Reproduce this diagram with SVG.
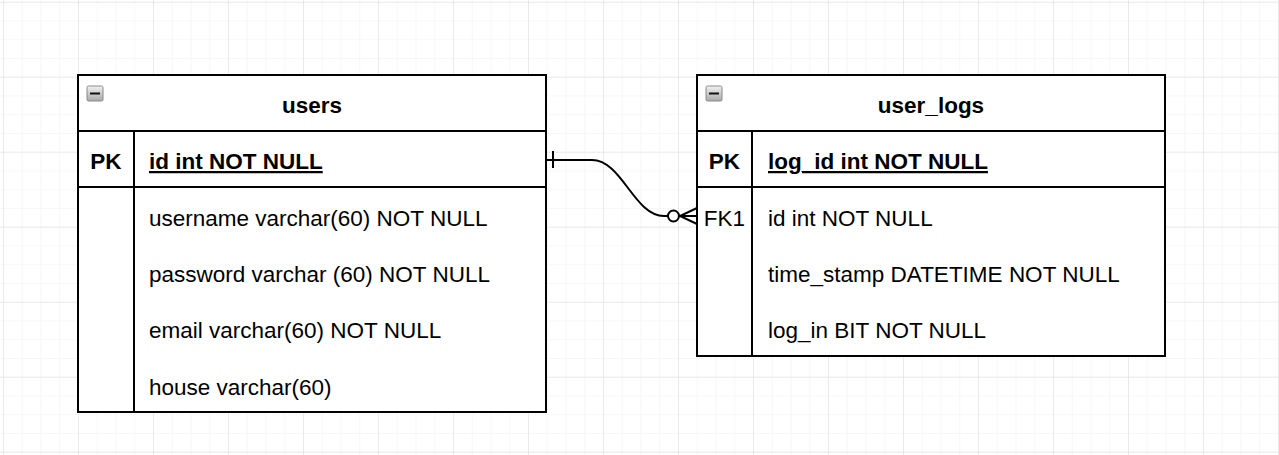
<svg xmlns="http://www.w3.org/2000/svg" width="1279" height="455" viewBox="0 0 1279 455">
  <defs>
    <pattern id="minor" x="3" y="1.7" width="18.75" height="18.75" patternUnits="userSpaceOnUse">
      <path d="M0 0 V18.75 M0 0 H18.75" fill="none" stroke="#efefef" stroke-width="1"/>
    </pattern>
    <pattern id="major" x="3" y="1.7" width="75" height="75" patternUnits="userSpaceOnUse">
      <path d="M0 0 V75 M0 0 H75" fill="none" stroke="#dedede" stroke-width="1"/>
    </pattern>
    <linearGradient id="btn" x1="0" y1="0" x2="0" y2="1">
      <stop offset="0" stop-color="#f2f2f2"/>
      <stop offset="1" stop-color="#a8a8a8"/>
    </linearGradient>
    <g id="toggle">
      <rect x="0" y="0" width="16" height="15" rx="1.5" fill="url(#btn)" stroke="#8a8a8a" stroke-width="1"/>
      <line x1="3" y1="7.5" x2="13" y2="7.5" stroke="#111" stroke-width="2"/>
    </g>
  </defs>
  <style>
    .box { fill: #ffffff; stroke: #000; stroke-width: 2; }
    .ln { stroke: #000; stroke-width: 2; fill: none; }
    .t { font-family: "Liberation Sans", Arial, sans-serif; font-size: 22.5px; fill: #000; }
    .b { font-weight: bold; }
    .c { text-anchor: middle; }
    .u { text-decoration: underline; }
  </style>
  <rect width="1279" height="455" fill="#ffffff"/>
  <rect width="1279" height="455" fill="url(#minor)"/>
  <rect width="1279" height="455" fill="url(#major)"/>

  <g id="users">
    <rect class="box" x="78" y="75" width="468" height="337"/>
    <line class="ln" x1="78" y1="131" x2="546" y2="131"/>
    <line class="ln" x1="78" y1="187" x2="546" y2="187"/>
    <line class="ln" x1="134" y1="131" x2="134" y2="412"/>
    <use href="#toggle" x="87" y="86"/>
    <text class="t b c" x="312" y="113">users</text>
    <text class="t b c" x="106" y="169">PK</text>
    <text class="t b u" x="149" y="169">id int NOT NULL</text>
    <text class="t" x="149" y="226">username varchar(60) NOT NULL</text>
    <text class="t" x="149" y="282">password varchar (60) NOT NULL</text>
    <text class="t" x="149" y="338">email varchar(60) NOT NULL</text>
    <text class="t" x="149" y="395">house varchar(60)</text>
  </g>

  <g id="user_logs">
    <rect class="box" x="697" y="75" width="468" height="281"/>
    <line class="ln" x1="697" y1="131" x2="1165" y2="131"/>
    <line class="ln" x1="697" y1="187" x2="1165" y2="187"/>
    <line class="ln" x1="752" y1="131" x2="752" y2="356"/>
    <use href="#toggle" x="706" y="86"/>
    <text class="t b c" x="931" y="113">user_logs</text>
    <text class="t b c" x="724.5" y="169">PK</text>
    <text class="t b u" x="768" y="169">log_id int NOT NULL</text>
    <text class="t c" x="724.5" y="226">FK1</text>
    <text class="t" x="768" y="226">id int NOT NULL</text>
    <text class="t" x="768" y="282">time_stamp DATETIME NOT NULL</text>
    <text class="t" x="768" y="338">log_in BIT NOT NULL</text>
  </g>

  <g id="connectors">
    <path class="ln" d="M546 160 H592 C622 160 634 216 664 216 H668"/>
    <line class="ln" x1="553" y1="151" x2="553" y2="168"/>
    <circle cx="673.5" cy="216" r="5.5" fill="#ffffff" stroke="#000" stroke-width="2"/>
    <path class="ln" d="M679 216 H697 M697 208 L680 216 L697 224"/>
  </g>
</svg>
